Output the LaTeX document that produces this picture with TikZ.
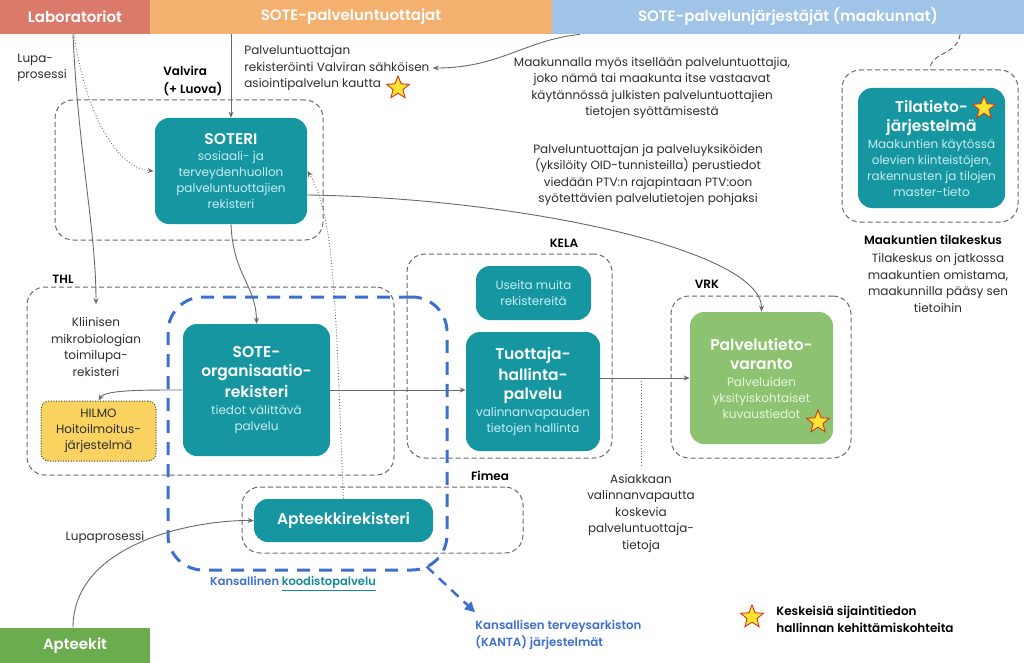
\documentclass[tikz,border=0pt]{standalone}
\usepackage{fontspec}
\setmainfont{Poppins}[BoldFont={Poppins SemiBold}]
\usetikzlibrary{arrows.meta,shapes.geometric,positioning}

\definecolor{tealbox}{RGB}{22,150,160}
\definecolor{tealtext}{RGB}{196,238,242}
\definecolor{ptvgreen}{RGB}{141,195,112}
\definecolor{ptvtext}{RGB}{232,246,224}
\definecolor{labred}{RGB}{219,122,107}
\definecolor{prodorange}{RGB}{244,176,110}
\definecolor{orgblue}{RGB}{160,196,232}
\definecolor{aptgreen}{RGB}{106,172,78}
\definecolor{hilmoyellow}{RGB}{250,210,95}
\definecolor{kantablue}{RGB}{61,111,204}
\definecolor{linkteal}{RGB}{20,140,150}
\definecolor{linegray}{RGB}{105,105,105}
\definecolor{textgray}{RGB}{45,45,45}
\definecolor{starfill}{RGB}{255,228,50}
\definecolor{starline}{RGB}{205,55,30}

\newcommand{\boxtitle}[1]{{\color{white}\fontsize{15.5}{19}\selectfont\bfseries #1}}

\tikzset{every picture/.style={line width=0.75pt}}
\tikzset{
  bar/.style={minimum height=34pt, inner sep=0pt, text=white, font=\fontsize{15}{18}\selectfont\bfseries},
  group/.style={draw=linegray, line width=1pt, dash pattern=on 5pt off 3pt, rounded corners=18pt, inner sep=0pt},
  kantaline/.style={draw=kantablue, line width=3pt, dash pattern=on 13pt off 9pt, rounded corners=35pt, inner sep=0pt},
  regbox/.style={fill=tealbox, rounded corners=14pt, align=center, inner sep=2pt, text=tealtext, font=\fontsize{12}{16}\selectfont},
  greenbox/.style={regbox, fill=ptvgreen, text=ptvtext},
  hilmobox/.style={fill=hilmoyellow, draw=black!75, line width=1pt, dash pattern=on 1pt off 1.6pt, rounded corners=8pt, align=center, text=textgray, font=\fontsize{12}{16}\selectfont},
  note/.style={text=textgray, font=\fontsize{12}{16.5}\selectfont, align=center, inner sep=0pt},
  grouplabel/.style={font=\fontsize{12}{18}\selectfont\bfseries, text=black, inner sep=0pt},
  keystar/.style={star, star points=5, star point ratio=2.3, fill=starfill, draw=starline, line width=0.9pt, minimum size=24pt, inner sep=0pt},
  conn/.style={draw=linegray, line width=0.9pt, -{Stealth[length=6pt,width=5pt]}},
  dotconn/.style={draw=linegray, line width=0.9pt, dotted, -{Stealth[length=6pt,width=5pt]}},
  grouplink/.style={draw=linegray, line width=1pt, dash pattern=on 5pt off 3pt},
  kantaarrow/.style={draw=kantablue, line width=2.5pt, dash pattern=on 10pt off 7pt, -{Triangle[length=10pt,width=10pt]}}
}

\begin{document}
\begin{tikzpicture}[x=1pt,y=1pt,yscale=-1]
	\useasboundingbox (0,0) rectangle (1024,663);

	% header bars
	\node[bar, fill=labred, minimum width=150pt] (lab) at (75,17) {Laboratoriot};
	\node[bar, fill=prodorange, minimum width=402pt] (prod) at (351,17) {SOTE-palveluntuottajat};
	\node[bar, fill=orgblue, minimum width=472pt] (org) at (788,17) {SOTE-palvelunjärjestäjät (maakunnat)};
	\node[bar, fill=aptgreen, minimum width=150pt, minimum height=35pt] (apt) at (75,645.5) {Apteekit};

	% dashed groups
	\node[group, minimum width=268pt, minimum height=140pt] (valvgrp) at (189,170) {};
	\node[group, minimum width=367pt, minimum height=188pt] (thlgrp) at (210.5,381) {};
	\node[group, minimum width=205pt, minimum height=204pt] (kelagrp) at (509.5,356) {};
	\node[group, minimum width=180pt, minimum height=162pt] (vrkgrp) at (761,377) {};
	\node[group, minimum width=281pt, minimum height=66pt] (fimeagrp) at (382.5,520) {};
	\node[group, minimum width=176pt, minimum height=152pt] (tilagrp) at (930,146) {};
	\node[kantaline, minimum width=279pt, minimum height=273pt] (kantagrp) at (307.5,433.5) {};

	% group labels
	\node[grouplabel, align=left, anchor=west] (valvlabel) at (163,81) {Valvira\\(+ Luova)};
	\node[grouplabel] (thllabel) at (63,279) {THL};
	\node[grouplabel] (kelalabel) at (564,243) {KELA};
	\node[grouplabel] (vrklabel) at (707,284) {VRK};
	\node[grouplabel] (fimealabel) at (490,476) {Fimea};
	\node[grouplabel] (tilalabel) at (933,240) {Maakuntien tilakeskus};

	% registers
	\node[regbox, minimum width=152pt, minimum height=106pt] (soteri) at (231,171)
		{\boxtitle{SOTERI}\\ sosiaali- ja\\ terveydenhuollon\\ palveluntuottajien\\ rekisteri};
	\node[regbox, minimum width=147pt, minimum height=132pt] (soteorg) at (256.5,390)
		{\boxtitle{SOTE-}\\[3pt] \boxtitle{organisaatio-}\\[3pt] \boxtitle{rekisteri}\\[1pt] tiedot välittävä\\ palvelu};
	\node[hilmobox, minimum width=115pt, minimum height=60pt] (hilmo) at (98.5,431) {HILMO\\ Hoitoilmoitus-\\ järjestelmä};
	\node[regbox, minimum width=115pt, minimum height=54pt] (useita) at (533.5,293) {Useita muita\\ rekistereitä};
	\node[regbox, minimum width=134pt, minimum height=119pt] (tuottaja) at (533,391.5)
		{\boxtitle{Tuottaja-}\\[3pt] \boxtitle{hallinta-}\\[3pt] \boxtitle{palvelu}\\[1pt] valinnanvapauden\\ tietojen hallinta};
	\node[greenbox, minimum width=143pt, minimum height=132pt] (ptv) at (761.5,378)
		{\boxtitle{Palvelutieto-}\\[3pt] \boxtitle{varanto}\\[1pt] Palveluiden\\ yksityiskohtaiset\\ kuvaustiedot};
	\node[regbox, minimum width=179pt, minimum height=43pt] (apteekki) at (343.5,520.5) {\boxtitle{Apteekkirekisteri}};
	\node[regbox, minimum width=147pt, minimum height=120pt] (tila) at (931.5,148)
		{\boxtitle{Tilatieto-}\\[3pt] \boxtitle{järjestelmä}\\[1pt] Maakuntien käytössä\\ olevien kiinteistöjen,\\ rakennusten ja tilojen\\ master-tieto};

	% notes
	\node[note, align=left, anchor=west] (lupanote) at (17,68) {Lupa-\\ prosessi};
	\node[note, align=left, anchor=west] (regnote) at (244,68) {Palveluntuottajan\\ rekisteröinti Valviran sähköisen\\ asiointipalvelun kautta};
	\node[note] (maaknote) at (652,88) {Maakunnalla myös itsellään palveluntuottajia,\\ joko nämä tai maakunta itse vastaavat\\ käytännössä julkisten palveluntuottajien\\ tietojen syöttämisestä};
	\node[note] (ptvnote) at (648,175) {Palveluntuottajan ja palveluyksiköiden\\ (yksilöity OID-tunnisteilla) perustiedot\\ viedään PTV:n rajapintaan PTV:oon\\ syötettävien palvelutietojen pohjaksi};
	\node[note] (tilanote) at (938,283) {Tilakeskus on jatkossa\\ maakuntien omistama,\\ maakunnilla pääsy sen\\ tietoihin};
	\node[note] (klinnote) at (96,347) {Kliinisen\\ mikrobiologian\\ toimilupa-\\ rekisteri};
	\node[note] (asiaknote) at (641,513) {Asiakkaan\\ valinnanvapautta\\ koskevia\\ palveluntuottaja-\\ tietoja};
	\node[note] (lupanote2) at (105,537) {Lupaprosessi};
	\node[note, font=\fontsize{11.5}{16}\selectfont\bfseries] (kodisto) at (293,584)
		{{\color{kantablue}Kansallinen} {\color{linkteal}\underline{koodistopalvelu}}};
	\node[note, align=left, anchor=west, text=kantablue, font=\fontsize{11.8}{16.5}\selectfont\bfseries] (kantanote) at (475,635)
		{Kansallisen terveysarkiston\\ (KANTA) järjestelmät};
	\node[note, align=left, anchor=west, text=black, font=\fontsize{12}{16.5}\selectfont\bfseries] (legendnote) at (776,619.5)
		{Keskeisiä sijaintitiedon\\ hallinnan kehittämiskohteita};

	% stars
	\node[keystar] (star1) at (398,88) {};
	\node[keystar] (star2) at (984,108) {};
	\node[keystar] (star3) at (818,422) {};
	\node[keystar] (star4) at (752,617) {};

	% connectors
	\draw[conn] ([xshift=-2pt]lab.south) .. controls (78,150) and (96,230) .. ([yshift=-13pt]klinnote.north);
	\draw[dotconn] ([xshift=-1pt]lab.south) .. controls (85,110) and (115,168) .. ([xshift=-1pt]soteri.west);
	\draw[conn] (soteri.north |- prod.south) -- (soteri.north);
	\draw[conn] ([xshift=-208pt]org.south) .. controls (525,40) and (500,68) .. ([xshift=3pt]regnote.east);
	\draw[grouplink] ([xshift=172pt]org.south) .. controls (958,55) and (930,52) .. (tilagrp.north);
	\draw[conn] ([yshift=24pt]soteri.east) .. controls (520,198) and (762,250) .. (ptv.north);
	\draw[conn] (soteri.south) .. controls (233,275) and (256,285) .. (soteorg.north);
	\draw[dotconn] (apteekki.north) .. controls (335,300) and (335,215) .. (soteri.east);
	\draw[conn] (soteorg.west) .. controls (140,390) and (105,390) .. (hilmo.north);
	\draw[conn] (soteorg.east) -- (soteorg.east -| tuottaja.west);
	\draw[conn] (tuottaja.east |- ptv.west) -- (ptv.west);
	\draw[draw=linegray, line width=0.9pt, dotted, shorten >=6pt] (asiaknote.north |- ptv.west) -- (asiaknote.north);
	\draw[conn] ([xshift=-2pt]apt.north) .. controls (73,545) and (190,520) .. (apteekki.west);
	\draw[kantaarrow] ([xshift=-22pt,yshift=-5pt]kantagrp.south east) -- ([yshift=-8pt]kantanote.north west);

\end{tikzpicture}
\end{document}
